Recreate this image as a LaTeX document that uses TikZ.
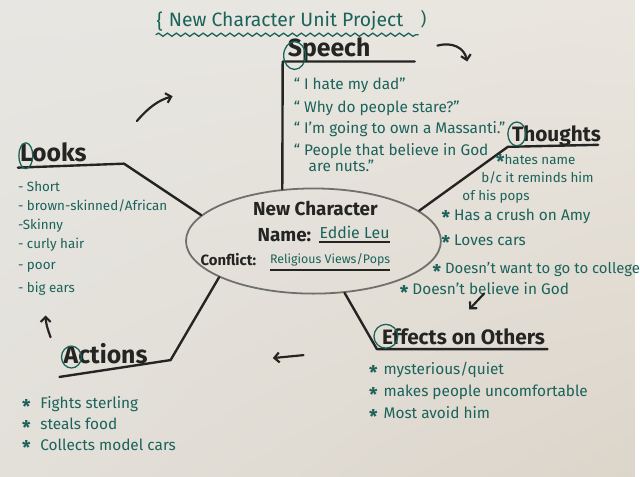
\documentclass[tikz,border=0pt]{standalone}
\usepackage{fontspec}
\setmainfont{Fira Sans}
\usetikzlibrary{shapes.geometric,decorations.pathmorphing,arrows.meta,shadings}
\definecolor{inkteal}{RGB}{26,98,90}
\definecolor{inkblack}{RGB}{36,36,34}
\definecolor{rimgray}{RGB}{112,111,107}
\definecolor{paperA}{RGB}{231,230,226}
\definecolor{paperB}{RGB}{234,230,223}
\definecolor{paperC}{RGB}{227,224,218}
\definecolor{paperD}{RGB}{220,213,202}
\newcommand{\starbullet}{\raisebox{-0.3em}[0pt][0pt]{\bfseries\fontsize{19}{19}\selectfont *}}
\begin{document}
\begin{tikzpicture}[x=1pt, y=-1pt,
    branch/.style={draw=inkblack, line width=2.4pt, line cap=round, line join=round},
    heading/.style={inkblack, font=\fontsize{25}{27}\selectfont\bfseries, inner sep=0pt, anchor=base west},
    smallheading/.style={heading, font=\fontsize{21}{23}\selectfont\bfseries},
    item/.style={inkteal, font=\fontsize{15.5}{17}\selectfont, inner sep=0pt, anchor=base west},
    ring/.style={draw=inkteal, line width=1.3pt},
    flow/.style={draw=inkblack, line width=2.2pt, line cap=round, -{Straight Barb[length=5pt, width=10pt]}}]

  % Paper
  \shade[upper left=paperA, upper right=paperB, lower left=paperC, lower right=paperD] (0,0) rectangle (640,480);

  % Title
  \node[inkteal, font=\fontsize{19.5}{21}\selectfont, inner sep=0pt, anchor=base west] (title) at (170,27) {New Character Unit Project};
  \node[inkteal, font=\fontsize{20}{22}\selectfont, inner sep=0pt] (titlebrace) at (161,22) {\{};
  \node[inkteal, font=\fontsize{18}{20}\selectfont, inner sep=0pt] (titleparen) at (427,19) {)};
  \draw[inkteal, line width=1.3pt, decorate, decoration={snake, amplitude=1.6pt, segment length=9pt}] (157,35) -- (422,35);

  % Centre
  \node[draw=rimgray, line width=1.8pt, ellipse, minimum width=257pt, minimum height=106pt] (core) at (316,243) {};
  \node[inkblack, font=\fontsize{19}{21}\selectfont\bfseries, inner sep=0pt, anchor=base] (coretitle) at (318,217) {New Character};
  \node[inkblack, font=\fontsize{19}{21}\selectfont\bfseries, inner sep=0pt, anchor=base east] (corename) at (314,243) {Name:};
  \node[inkteal, font=\fontsize{16}{18}\selectfont, inner sep=0pt, anchor=base west] (corenamevalue) at (322,240) {Eddie Leu};
  \draw[inkblack, line width=1.5pt] ([yshift=-4pt]corenamevalue.base west) -- ([yshift=-4pt]corenamevalue.base east);
  \node[inkblack, font=\fontsize{15}{17}\selectfont\bfseries, inner sep=0pt, anchor=base west] (coreconflict) at (202,268) {Conflict:};
  \node[inkteal, font=\fontsize{12.5}{14}\selectfont, inner sep=0pt, anchor=base west] (coreconflictvalue) at (272,266) {Religious Views/Pops};
  \draw[inkblack, line width=1.5pt] ([yshift=-6pt]coreconflictvalue.base west) -- ([yshift=-6pt]coreconflictvalue.base east);

  % Branch corners
  \coordinate (speechbend) at (285,62);
  \coordinate (speechend) at (418,62);
  \coordinate (thoughtsbend) at (512,148);
  \coordinate (thoughtsend) at (603,146);
  \coordinate (looksbend) at (125,165);
  \coordinate (looksend) at (18,169);
  \coordinate (actionsbend) at (172,363);
  \coordinate (actionsend) at (60,380);
  \coordinate (effectsbend) at (380,352);
  \coordinate (effectsend) at (552,352);

  % Branches
  \draw[branch] (core.121) -- (speechbend) -- (speechend);
  \draw[branch] (core.16) -- (thoughtsbend) -- (thoughtsend);
  \draw[branch] (core.167) -- (looksbend) -- (looksend);
  \draw[branch] (core.201) -- (actionsbend) -- (actionsend);
  \draw[branch] (core.301) -- (effectsbend) -- (effectsend);

  % Headings
  \node[heading] (speech) at (290,57) {Speech};
  \node[smallheading] (thoughts) at (516,143) {Thoughts};
  \node[heading] (looks) at (20,163) {Looks};
  \node[heading] (actions) at (64,366) {Actions};
  \node[smallheading] (effects) at (385,347) {Effects on Others};
  \draw[ring] (297,56) ellipse [x radius=11pt, y radius=14pt];
  \draw[ring] (521,135) ellipse [x radius=9pt, y radius=12pt];
  \draw[ring] (26,157) ellipse [x radius=7pt, y radius=13pt];
  \draw[ring] (72,360) ellipse [x radius=10pt, y radius=11pt];
  \draw[ring] (389,339) ellipse [x radius=12pt, y radius=12pt];

  % Speech
  \node[item] (speech1) at (296,90) {“ I hate my dad”};
  \node[item] (speech2) at (296,113) {“ Why do people stare?”};
  \node[item] (speech3) at (296,135) {“ I'm going to own a Massanti.”};
  \node[item] (speech4) at (296,157) {“ People that believe in God};
  \node[item] (speech5) at (311,173) {are nuts.”};

  % Thoughts
  \begin{scope}[every node/.style={item, font=\fontsize{13.5}{15}\selectfont}]
    \node (thoughts1) at (500,166) {\starbullet hates name};
    \node (thoughts2) at (485,184) {b/c it reminds him};
    \node (thoughts3) at (466,202) {of his pops};
  \end{scope}
  \node[item] (thoughts4) at (445,222) {\starbullet\ Has a crush on Amy};
  \node[item] (thoughts5) at (445,247) {\starbullet\ Loves cars};
  \node[item, font=\fontsize{15}{17}\selectfont] (thoughts6) at (436,276) {\starbullet\ Doesn't want to go to college};
  \node[item] (thoughts7) at (403,297) {\starbullet\ Doesn't believe in God};

  % Looks
  \begin{scope}[every node/.style={item, font=\fontsize{13.5}{15}\selectfont}]
    \node (looks1) at (18,193) {- Short};
    \node (looks2) at (18,212) {- brown-skinned/African};
    \node (looks3) at (18,231) {-Skinny};
    \node (looks4) at (18,251) {- curly hair};
    \node (looks5) at (18,272) {- poor};
    \node (looks6) at (18,295) {- big ears};
  \end{scope}

  % Actions
  \node[item] (actions1) at (22,412) {\starbullet\hspace{10pt}Fights sterling};
  \node[item] (actions2) at (22,433) {\starbullet\hspace{10pt}steals food};
  \node[item] (actions3) at (22,454) {\starbullet\hspace{10pt}Collects model cars};

  % Effects on others
  \node[item] (effects1) at (372,378) {\starbullet\hspace{6pt}mysterious/quiet};
  \node[item] (effects2) at (372,400) {\starbullet\hspace{6pt}makes people uncomfortable};
  \node[item] (effects3) at (372,422) {\starbullet\hspace{6pt}Most avoid him};

  % Loop arrows
  \draw[flow] (138,122) .. controls (150,108) and (160,101) .. (174,97);
  \draw[flow] (441,46) .. controls (456,42) and (468,48) .. (471,62);
  \draw[flow] (51,340) .. controls (48,332) and (46,325) .. (46,318);
  \draw[flow] (306,358) -- (275,361);
  \draw[flow] (488,296) -- (473,312);
\end{tikzpicture}
\end{document}
